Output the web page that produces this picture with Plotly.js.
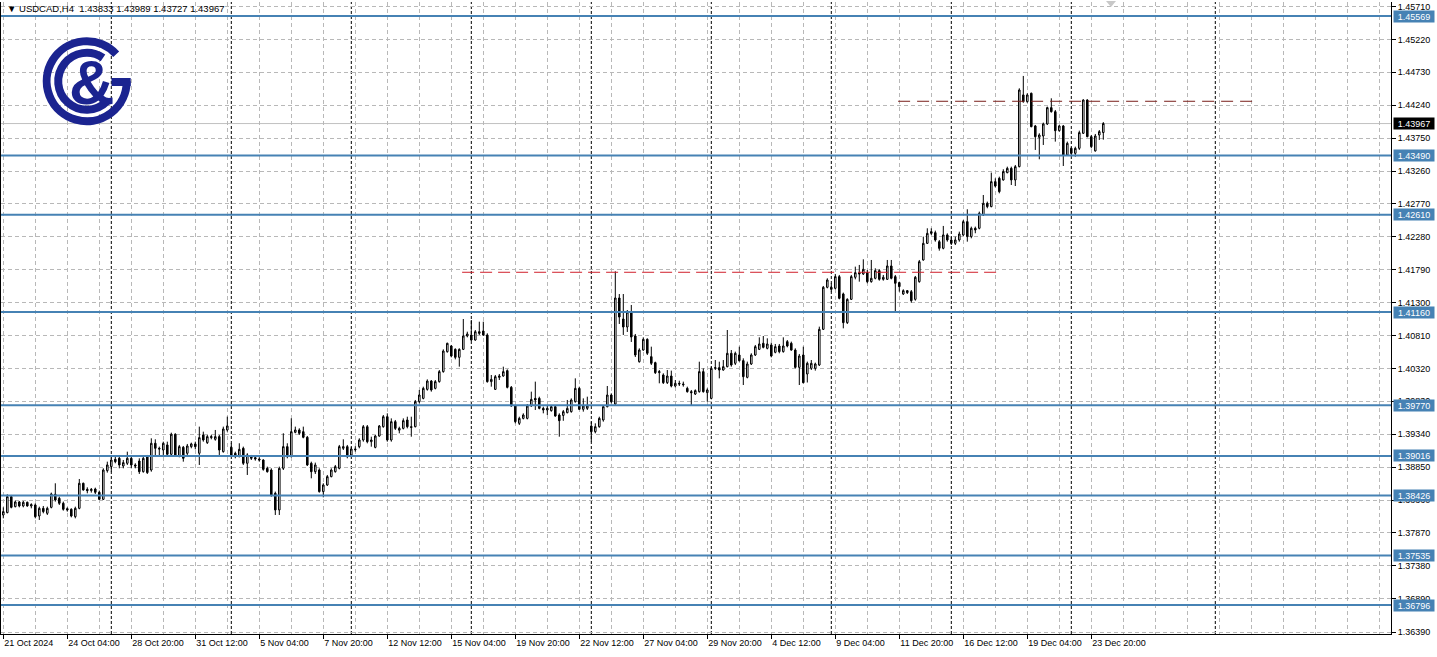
<!DOCTYPE html>
<html><head><meta charset="utf-8">
<script src="https://cdn.plot.ly/plotly-3.0.1.min.js"></script>
<style>html,body{margin:0;padding:0;background:#fff;overflow:hidden}#chart{width:1437px;height:657px}</style>
</head><body><div id="chart"></div>
<script>
// ---- data (USDCAD H4, bars from 21 Oct 2024 12:00 to 24 Dec 2024) ----
const headerText = "\u25BC USDCAD,H4\u00a0\u00a01.43833 1.43989 1.43727 1.43967";
const barOpen = [
1.38137,1.38172,1.38410,1.38261,1.38331,1.38271,1.38326,1.38271,1.38286,1.38122,
1.38236,1.38162,1.38251,1.38445,1.38385,1.38311,1.38231,1.38222,1.38112,1.38236,
1.38609,1.38519,1.38500,1.38524,1.38475,1.38370,1.38797,1.38857,1.38966,1.38981,
1.38867,1.38907,1.38981,1.38882,1.38941,1.38782,1.39006,1.38807,1.39205,1.39130,
1.39105,1.39180,1.39041,1.39339,1.39016,1.39145,1.39056,1.39155,1.39195,1.39056,
1.39329,1.39214,1.39289,1.39264,1.39304,1.39080,1.39403,1.39145,1.39056,1.39006,
1.39130,1.38907,1.39006,1.38991,1.38971,1.38956,1.38832,1.38807,1.38460,1.38212,
1.38832,1.39155,1.39006,1.39368,1.39403,1.39378,1.39294,1.38907,1.38782,1.38807,
1.38485,1.38584,1.38708,1.38782,1.38832,1.39130,1.39155,1.39030,1.39120,1.39154,
1.39254,1.39452,1.39229,1.39144,1.39313,1.39452,1.39601,1.39254,1.39527,1.39400,
1.39427,1.39552,1.39452,1.39452,1.39825,1.39874,1.40008,1.40132,1.40023,1.40123,
1.40272,1.40569,1.40654,1.40604,1.40485,1.40604,1.40803,1.40818,1.40743,1.40867,
1.40877,1.40818,1.40123,1.40008,1.40187,1.40207,1.40287,1.40038,1.39760,1.39502,
1.39576,1.39576,1.39760,1.39874,1.39874,1.39725,1.39701,1.39691,1.39750,1.39626,
1.39620,1.39661,1.39676,1.39825,1.40023,1.39711,1.39725,1.39462,1.39378,1.39452,
1.39552,1.39750,1.39924,1.39790,1.41369,1.41056,1.40937,1.41160,1.40803,1.40420,
1.40594,1.40753,1.40495,1.40406,1.40257,1.40222,1.40108,1.40207,1.40058,1.40098,
1.40088,1.40023,1.39974,1.39939,1.39974,1.40272,1.39959,1.39874,1.40321,1.40331,
1.40296,1.40346,1.40545,1.40396,1.40520,1.40436,1.40187,1.40386,1.40520,1.40604,
1.40694,1.40619,1.40669,1.40560,1.40654,1.40570,1.40719,1.40694,1.40594,1.40336,
1.40520,1.40237,1.40321,1.40321,1.40371,1.40902,1.41528,1.41528,1.41513,1.41687,
1.41429,1.41002,1.41349,1.41677,1.41746,1.41727,1.41746,1.41612,1.41662,1.41776,
1.41647,1.41647,1.41846,1.41687,1.41598,1.41429,1.41478,1.41463,1.41349,1.41612,
1.41935,1.42183,1.42357,1.42342,1.42208,1.42109,1.42308,1.42233,1.42183,1.42233,
1.42308,1.42506,1.42283,1.42407,1.42407,1.42605,1.42779,1.42730,1.43102,1.43151,
1.43127,1.43236,1.43300,1.43127,1.43325,1.44393,1.44293,1.44418,1.43931,1.43762,
1.43782,1.43961,1.44204,1.44144,1.43861,1.43931,1.43499,1.43598,1.43524,1.43598,
1.43822,1.44318,1.43772,1.43560,1.43797,1.43833];
const barHigh = [
1.38251,1.38445,1.38435,1.38351,1.38346,1.38346,1.38336,1.38311,1.38311,1.38261,
1.38271,1.38261,1.38470,1.38609,1.38410,1.38336,1.38251,1.38236,1.38261,1.38673,
1.38619,1.38549,1.38539,1.38544,1.38500,1.38832,1.38931,1.38996,1.39006,1.39006,
1.38956,1.39080,1.39006,1.38907,1.38981,1.39006,1.39031,1.39279,1.39264,1.39155,
1.39229,1.39229,1.39363,1.39354,1.39180,1.39165,1.39195,1.39214,1.39229,1.39453,
1.39378,1.39329,1.39329,1.39403,1.39329,1.39453,1.39602,1.39205,1.39080,1.39205,
1.39155,1.39056,1.39031,1.39016,1.38996,1.38966,1.38857,1.38832,1.38485,1.38857,
1.39354,1.39205,1.39577,1.39453,1.39428,1.39453,1.39314,1.38931,1.38917,1.38832,
1.38609,1.38733,1.38832,1.38882,1.39180,1.39264,1.39180,1.39150,1.39160,1.39279,
1.39477,1.39477,1.39303,1.39328,1.39477,1.39626,1.39651,1.39576,1.39552,1.39452,
1.39576,1.39601,1.39601,1.39850,1.39999,1.40048,1.40157,1.40147,1.40147,1.40296,
1.40604,1.40703,1.40669,1.40619,1.40619,1.41056,1.40867,1.41041,1.40892,1.41016,
1.41016,1.40843,1.40222,1.40222,1.40237,1.40346,1.40306,1.40058,1.39775,1.39601,
1.39651,1.39790,1.39974,1.40123,1.39899,1.39750,1.39760,1.39775,1.39775,1.39651,
1.39701,1.39850,1.39874,1.40172,1.40048,1.39874,1.39899,1.39527,1.39502,1.39601,
1.39775,1.40058,1.39949,1.41766,1.41428,1.41428,1.41190,1.41265,1.40833,1.40619,
1.40783,1.40768,1.40644,1.40420,1.40296,1.40247,1.40296,1.40287,1.40147,1.40137,
1.40123,1.40048,1.39999,1.40008,1.40420,1.40321,1.40023,1.40346,1.40445,1.40420,
1.40445,1.40892,1.40594,1.40570,1.40644,1.40470,1.40421,1.40545,1.40669,1.40783,
1.40803,1.40768,1.40704,1.40684,1.40684,1.40783,1.40743,1.40719,1.40619,1.40535,
1.40644,1.40421,1.40445,1.40406,1.40942,1.41548,1.41662,1.41588,1.41727,1.41712,
1.41449,1.41364,1.41712,1.41836,1.41861,1.41945,1.41786,1.41935,1.41811,1.41796,
1.41712,1.41935,1.41935,1.41712,1.41612,1.41498,1.41488,1.41488,1.41697,1.41935,
1.42283,1.42407,1.42407,1.42372,1.42233,1.42442,1.42332,1.42283,1.42283,1.42357,
1.42531,1.42690,1.42432,1.42432,1.42655,1.42903,1.42804,1.43236,1.43151,1.43176,
1.43286,1.43325,1.43325,1.43350,1.44492,1.44676,1.44418,1.44428,1.43946,1.43822,
1.43981,1.44219,1.44343,1.44169,1.43946,1.43946,1.43698,1.43613,1.43623,1.43861,
1.44328,1.44328,1.43797,1.43812,1.43871,1.43989];
const barLow = [
1.38087,1.38162,1.38236,1.38251,1.38251,1.38251,1.38261,1.38236,1.38087,1.38063,
1.38162,1.38137,1.38236,1.38336,1.38286,1.38202,1.38187,1.38102,1.38087,1.38222,
1.38500,1.38460,1.38470,1.38450,1.38360,1.38360,1.38768,1.38782,1.38907,1.38832,
1.38832,1.38882,1.38832,1.38832,1.38748,1.38768,1.38748,1.38782,1.39006,1.39006,
1.39006,1.39031,1.39031,1.39016,1.38996,1.38931,1.39031,1.39130,1.39115,1.38882,
1.39229,1.39195,1.39264,1.39244,1.39031,1.39066,1.39378,1.39016,1.38981,1.38996,
1.38882,1.38733,1.38956,1.38946,1.38931,1.38797,1.38768,1.38410,1.38137,1.38137,
1.38807,1.38981,1.38996,1.39354,1.39329,1.39279,1.38867,1.38683,1.38748,1.38470,
1.38400,1.38569,1.38698,1.38768,1.38817,1.39105,1.38981,1.39000,1.39080,1.39130,
1.39229,1.39204,1.39154,1.39130,1.39303,1.39437,1.39229,1.39229,1.39403,1.39353,
1.39412,1.39427,1.39303,1.39442,1.39800,1.39860,1.39989,1.39974,1.40008,1.40108,
1.40257,1.40555,1.40485,1.40455,1.40346,1.40594,1.40783,1.40728,1.40733,1.40818,
1.40803,1.40108,1.40048,1.39999,1.40147,1.40197,1.40023,1.39750,1.39502,1.39477,
1.39561,1.39561,1.39750,1.39701,1.39711,1.39651,1.39626,1.39676,1.39601,1.39303,
1.39540,1.39651,1.39661,1.39810,1.39701,1.39676,1.39701,1.39229,1.39353,1.39437,
1.39527,1.39740,1.39800,1.39760,1.40982,1.40818,1.40863,1.40714,1.40490,1.40406,
1.40584,1.40520,1.40371,1.40237,1.40098,1.40088,1.40088,1.40038,1.40038,1.40058,
1.40048,1.39959,1.39775,1.39924,1.39959,1.39959,1.39825,1.39859,1.40296,1.40172,
1.40287,1.40336,1.40346,1.40371,1.40421,1.40073,1.40172,1.40371,1.40505,1.40594,
1.40619,1.40604,1.40485,1.40545,1.40545,1.40555,1.40634,1.40584,1.40321,1.40073,
1.40098,1.40110,1.40297,1.40287,1.40356,1.40892,1.41513,1.41463,1.41498,1.41349,
1.40917,1.40982,1.41339,1.41647,1.41612,1.41712,1.41588,1.41597,1.41647,1.41627,
1.41627,1.41637,1.41647,1.41175,1.41463,1.41414,1.41429,1.41300,1.41329,1.41597,
1.41925,1.42173,1.42308,1.42208,1.42074,1.42094,1.42208,1.42158,1.42158,1.42208,
1.42293,1.42208,1.42258,1.42333,1.42392,1.42590,1.42705,1.42720,1.43017,1.42928,
1.43117,1.43226,1.43052,1.43037,1.43315,1.44278,1.44278,1.43911,1.43574,1.43435,
1.43648,1.43946,1.44130,1.43698,1.43847,1.43335,1.43484,1.43499,1.43474,1.43574,
1.43812,1.43762,1.43600,1.43549,1.43723,1.43727];
const barClose = [
1.38187,1.38410,1.38251,1.38331,1.38271,1.38326,1.38271,1.38291,1.38112,1.38236,
1.38187,1.38236,1.38450,1.38360,1.38311,1.38222,1.38212,1.38122,1.38236,1.38609,
1.38510,1.38500,1.38519,1.38475,1.38370,1.38807,1.38882,1.38956,1.38931,1.38882,
1.38917,1.38981,1.38882,1.38867,1.38782,1.38981,1.38768,1.39205,1.39130,1.39120,
1.39205,1.39041,1.39339,1.39031,1.39155,1.38981,1.39165,1.39195,1.39155,1.39289,
1.39254,1.39304,1.39304,1.39304,1.39105,1.39418,1.39463,1.39031,1.39006,1.39115,
1.38907,1.39031,1.38981,1.38971,1.38956,1.38817,1.38782,1.38435,1.38212,1.38832,
1.39155,1.39006,1.39378,1.39403,1.39354,1.39294,1.38882,1.38782,1.38882,1.38485,
1.38584,1.38708,1.38807,1.38857,1.39155,1.39155,1.39006,1.39120,1.39110,1.39254,
1.39452,1.39229,1.39254,1.39313,1.39462,1.39601,1.39254,1.39527,1.39427,1.39427,
1.39542,1.39452,1.39442,1.39825,1.39924,1.40023,1.40132,1.39999,1.40123,1.40272,
1.40579,1.40694,1.40505,1.40485,1.40604,1.40803,1.40833,1.40743,1.40867,1.40843,
1.40818,1.40123,1.40157,1.40197,1.40207,1.40272,1.40038,1.39760,1.39527,1.39576,
1.39626,1.39760,1.39859,1.39850,1.39725,1.39701,1.39725,1.39750,1.39611,1.39542,
1.39676,1.39725,1.39850,1.40023,1.39711,1.39760,1.39760,1.39378,1.39452,1.39576,
1.39750,1.39924,1.39825,1.41369,1.41086,1.40937,1.41160,1.40788,1.40520,1.40594,
1.40753,1.40545,1.40396,1.40257,1.40272,1.40108,1.40207,1.40058,1.40098,1.40088,
1.40078,1.39974,1.39959,1.39989,1.40272,1.39974,1.39999,1.40321,1.40331,1.40296,
1.40346,1.40545,1.40371,1.40545,1.40436,1.40197,1.40386,1.40520,1.40644,1.40684,
1.40634,1.40684,1.40505,1.40644,1.40570,1.40654,1.40654,1.40594,1.40336,1.40505,
1.40108,1.40396,1.40396,1.40386,1.40902,1.41528,1.41637,1.41498,1.41687,1.41364,
1.41002,1.41349,1.41687,1.41746,1.41727,1.41796,1.41612,1.41662,1.41776,1.41647,
1.41677,1.41846,1.41662,1.41588,1.41538,1.41478,1.41449,1.41329,1.41677,1.41910,
1.42183,1.42332,1.42332,1.42233,1.42109,1.42308,1.42233,1.42183,1.42233,1.42322,
1.42506,1.42283,1.42407,1.42382,1.42630,1.42779,1.42730,1.43102,1.43037,1.42953,
1.43251,1.43300,1.43127,1.43325,1.44467,1.44293,1.44393,1.43921,1.43772,1.43797,
1.43961,1.44204,1.44144,1.43861,1.43931,1.43499,1.43673,1.43524,1.43598,1.43832,
1.44318,1.43772,1.43624,1.43782,1.43847,1.43967];

// time-axis labels (bar index -> text)
const labelIdx  = [0,16,32,48,64,80,96,112,128,144,160,176,192,208,224,240,256,272];
const labelText = ["21 Oct 2024","24 Oct 04:00","28 Oct 20:00","31 Oct 12:00","5 Nov 04:00","7 Nov 20:00",
  "12 Nov 12:00","15 Nov 04:00","19 Nov 20:00","22 Nov 12:00","27 Nov 04:00","29 Nov 20:00",
  "4 Dec 12:00","9 Dec 04:00","11 Dec 20:00","16 Dec 12:00","19 Dec 04:00","23 Dec 20:00"];
const weekStartIdx = [27,57,87,117,147,177,207,237,267,303];
// price axis labels
const priceTicks = [1.45710,1.45220,1.44730,1.44240,1.43750,1.43260,1.42770,1.42280,1.41790,1.41300,
  1.40810,1.40320,1.39830,1.39340,1.38850,1.38360,1.37870,1.37380,1.36890,1.36390];
// horizontal support / resistance levels
const levels = [1.45569,1.43490,1.42610,1.41160,1.39770,1.39016,1.38426,1.37535,1.36796];
const bidPrice = 1.43967;
const dashLevel1 = {price:1.41752, from:114.7, to:248.7};
const dashLevel2 = {price:1.44299, from:223.7, to:312.4};

// ---- build ----
const barIndex = barOpen.map((_, i) => i);
const FONT = 'Liberation Sans, Arial, sans-serif';
const minorIdx = [];
for (let k = 8; k <= 344; k += 8) if (!labelIdx.includes(k)) minorIdx.push(k);

const trace = {
  type: 'candlestick', x: barIndex, open: barOpen, high: barHigh, low: barLow, close: barClose,
  whiskerwidth: 0, hoverinfo: 'skip',
  increasing: {line: {color: '#000', width: 1}, fillcolor: '#ffffff'},
  decreasing: {line: {color: '#000', width: 1}, fillcolor: '#000000'}
};

// plot area in pixels: x 1..1391, y 2..634
const PX = px => (px - 1) / 1390;
const PY = py => (634 - py) / 632;

const shapes = [];
weekStartIdx.forEach(k => shapes.push({type:'line', xref:'x', yref:'paper', x0:k, x1:k, y0:0, y1:1,
  line:{color:'#000', width:1, dash:'3px,2px'}, layer:'between'}));
shapes.push({type:'line', xref:'paper', yref:'y', x0:0, x1:1, y0:bidPrice, y1:bidPrice,
  line:{color:'#c0c0c0', width:1}, layer:'between'});
levels.forEach(v => shapes.push({type:'line', xref:'paper', yref:'y', x0:0, x1:1, y0:v, y1:v,
  line:{color:'#4682b4', width:2}, layer:'above'}));
shapes.push({type:'line', xref:'x', yref:'y', x0:dashLevel1.from, x1:dashLevel1.to, y0:dashLevel1.price, y1:dashLevel1.price,
  line:{color:'#d0202c', width:1, dash:'12px,6px'}, layer:'above'});
shapes.push({type:'line', xref:'x', yref:'y', x0:dashLevel2.from, x1:dashLevel2.to, y0:dashLevel2.price, y1:dashLevel2.price,
  line:{color:'#7a1f1a', width:1, dash:'12px,7px'}, layer:'above'});
// small grey chart-shift marker at the top
shapes.push({type:'path', xref:'paper', yref:'paper',
  path:`M ${PX(1106)} ${PY(1)} L ${PX(1116)} ${PY(1)} L ${PX(1111)} ${PY(7)} Z`,
  fillcolor:'#c8c8c8', line:{width:0}, layer:'above'});

const annotations = [];
levels.forEach(v => annotations.push({xref:'paper', yref:'y', x:PX(1393), y:v, xanchor:'left', yanchor:'middle',
  text:v.toFixed(5), showarrow:false, bgcolor:'#4682b4', borderpad:0.5, width:39, height:10,
  font:{family:FONT, size:9, color:'#ffffff'}}));
annotations.push({xref:'paper', yref:'y', x:PX(1393), y:bidPrice, xanchor:'left', yanchor:'middle',
  text:bidPrice.toFixed(5), showarrow:false, bgcolor:'#000000', borderpad:0.5, width:39, height:10,
  font:{family:FONT, size:9, color:'#ffffff'}});
annotations.push({xref:'paper', yref:'paper', x:PX(5), y:PY(9), xanchor:'left', yanchor:'middle',
  text:headerText, showarrow:false, font:{family:FONT, size:9.5, color:'#000'}});
annotations.push({xref:'paper', yref:'paper', x:PX(92), y:PY(82), xanchor:'center', yanchor:'middle',
  text:'<b>&amp;</b>', showarrow:false, font:{family:'Liberation Sans, Arial, sans-serif', size:63, color:'#1b2490'}});

const logoSvg = "<svg xmlns='http://www.w3.org/2000/svg' width='94' height='94' viewBox='40 34 94 94'>" +
  "<g fill='none' stroke='#1b2490' stroke-width='8'>" +
  "<path d='M126.7 81.2 A40 40 0 1 1 116.2 54.2'/>" +
  "<path d='M103 57.9 A28.5 28.5 0 1 0 106.9 101.4'/></g>" +
  "<rect x='111.5' y='78' width='19.2' height='8' fill='#1b2490'/></svg>";
const images = [{source:'data:image/svg+xml;charset=utf-8,' + encodeURIComponent(logoSvg),
  xref:'paper', yref:'paper', x:PX(40), y:PY(34), sizex:94/1390, sizey:94/632,
  xanchor:'left', yanchor:'top', sizing:'stretch', layer:'above'}];

const gridStyle = {gridcolor:'#b8b8b8', griddash:'4px,3px', gridwidth:1};
const layout = {
  width:1437, height:657, margin:{l:1, r:46, t:2, b:23},
  paper_bgcolor:'#ffffff', plot_bgcolor:'#ffffff', showlegend:false, hovermode:false, dragmode:false,
  boxgap:0.45,
  xaxis: Object.assign({range:[-0.575, 346.925], tickmode:'array', tickvals:labelIdx, ticktext:labelText,
    ticks:'outside', ticklen:4, tickcolor:'#000', tickwidth:1, ticklabelposition:'outside right',
    tickfont:{family:FONT, size:9, color:'#000'}, showgrid:true,
    minor:{tickmode:'array', tickvals:minorIdx, showgrid:true, gridcolor:'#b8b8b8', griddash:'4px,3px', ticks:''},
    showline:true, linecolor:'#000', linewidth:1, zeroline:false, rangeslider:{visible:false}, fixedrange:true}, gridStyle),
  yaxis: Object.assign({side:'right', range:[1.363643, 1.457775], tickmode:'array', tickvals:priceTicks,
    ticktext:priceTicks.map(v => v.toFixed(5)), ticks:'outside', ticklen:4, tickcolor:'#000', tickwidth:1,
    tickfont:{family:FONT, size:9, color:'#000'}, showgrid:true, showline:true, mirror:true,
    linecolor:'#000', linewidth:1, zeroline:false, fixedrange:true}, gridStyle),
  shapes: shapes, annotations: annotations, images: images
};
Plotly.newPlot('chart', [trace], layout, {staticPlot:true, displayModeBar:false});
</script></body></html>
